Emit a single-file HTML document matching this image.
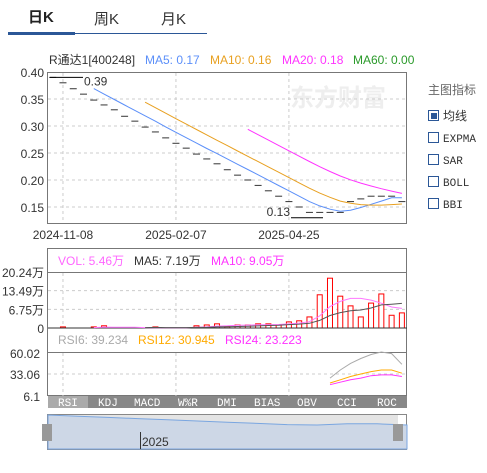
<!DOCTYPE html>
<html><head><meta charset="utf-8"><style>
body{margin:0;width:487px;height:468px;background:#fff;overflow:hidden;font-family:"Liberation Sans","Noto Sans CJK SC",sans-serif;}
svg text{font-family:"Liberation Sans","Noto Sans CJK SC",sans-serif;}
svg .mono text,svg text.mono{font-family:"Liberation Mono",monospace;}
</style></head><body>
<svg id="c" width="487" height="468" xmlns="http://www.w3.org/2000/svg">
<g>
<text x="28" y="22" font-size="15" font-weight="bold" fill="#222">日K</text>
<text x="94" y="24" font-size="15" fill="#333">周K</text>
<text x="161" y="24" font-size="15" fill="#333">月K</text>
<line x1="8" y1="33.5" x2="207" y2="33.5" stroke="#2b5797" stroke-width="1"/>
<rect x="8" y="32" width="67" height="3" fill="#2b5797"/>
</g>
<g font-size="12">
<text x="49" y="64" fill="#333">R通达1[400248]</text>
<text x="145" y="64" fill="#5b8ff9">MA5: 0.17</text>
<text x="210" y="64" fill="#e8a020">MA10: 0.16</text>
<text x="282" y="64" fill="#ff33ff">MA20: 0.18</text>
<text x="353" y="64" fill="#2a9a2a">MA60: 0.00</text>
</g>
<text x="290" y="106" font-size="24" font-weight="bold" fill="#eee">东方财富</text>
<g id="main"></g>
<g id="vol"></g>
<g id="rsi"></g>
<g class="mono" font-size="11" fill="#fff">
<rect x="48" y="396" width="359" height="12" fill="#888"/>
<rect x="48" y="396" width="40" height="12" fill="#aaa"/>
<text x="58" y="406" fill="#fff">RSI</text>
<text x="98" y="406" fill="#fff">KDJ</text>
<text x="134" y="406" fill="#fff">MACD</text>
<text x="178" y="406" fill="#fff">W%R</text>
<text x="217" y="406" fill="#fff">DMI</text>
<text x="254" y="406" fill="#fff">BIAS</text>
<text x="297" y="406" fill="#fff">OBV</text>
<text x="337" y="406" fill="#fff">CCI</text>
<text x="377" y="406" fill="#fff">ROC</text>
</g>
<g>
<rect x="47.5" y="414.5" width="359" height="35" fill="#fff" stroke="#888"/>
<rect x="48" y="415" width="350" height="34" fill="#e4e4e4"/>
<path id="navp" fill="#cdd7e6" stroke="#7aa6e0" stroke-width="1"/>
<line x1="140.5" y1="432" x2="140.5" y2="449" stroke="#333"/>
<text x="142" y="446" font-size="12" fill="#333">2025</text>
<rect x="42" y="424" width="10" height="17" fill="#999"/>
<rect x="393" y="424" width="10" height="17" fill="#999"/>
</g>
<g font-size="11">
<text x="428" y="94" fill="#666" font-size="12">主图指标</text>
<g><rect x="428.5" y="110.5" width="10" height="10" fill="#fff" stroke="#2b5797"/><rect x="431" y="113" width="6" height="6" fill="#2b5797"/><text x="443" y="120" fill="#333" font-size="12">均线</text></g>
<g class="mono"><rect x="428.5" y="132.5" width="10" height="10" fill="#fff" stroke="#2b5797"/><text x="443" y="142" fill="#333">EXPMA</text></g>
<g class="mono"><rect x="428.5" y="154.5" width="10" height="10" fill="#fff" stroke="#2b5797"/><text x="443" y="164" fill="#333">SAR</text></g>
<g class="mono"><rect x="428.5" y="176.5" width="10" height="10" fill="#fff" stroke="#2b5797"/><text x="443" y="186" fill="#333">BOLL</text></g>
<g class="mono"><rect x="428.5" y="198.5" width="10" height="10" fill="#fff" stroke="#2b5797"/><text x="443" y="208" fill="#333">BBI</text></g>
</g>
</svg>
<script>
const closes=[0.39,0.38,0.369,0.359,0.348,0.339,0.33,0.318,0.309,0.298,0.289,0.278,0.268,0.259,0.248,0.239,0.23,0.219,0.209,0.2,0.19,0.18,0.17,0.16,0.15,0.14,0.14,0.14,0.14,0.16,0.165,0.17,0.17,0.17,0.16];
const volumes=[0,0.4,0,0,0.4,0.8,0,0,0,0,0.4,0,0,0,0.8,1.1,1.5,0.5,1.1,1.1,1.5,1.5,1.1,2.2,2.6,4.0,12.0,18.0,11.5,8.0,4.0,9.0,12.3,4.6,5.46];
const rsi6=[null,null,null,null,null,null,null,null,null,null,null,null,null,null,null,null,null,null,null,null,null,null,null,null,null,null,null,28,38,46,52,57,60,58,45];
const rsi12=[null,null,null,null,null,null,null,null,null,null,null,null,null,null,null,null,null,null,null,null,null,null,null,null,null,null,null,22,26,30,33,36,38,38,34];
const rsi24=[null,null,null,null,null,null,null,null,null,null,null,null,null,null,null,null,null,null,null,null,null,null,null,null,null,null,null,20,23,26,28,31,32,32,30];
const priceTicks=[0.40,0.35,0.30,0.25,0.20,0.15];
const volTicks=[0,6.75,13.49,20.24];
const volTickLabels=["0","6.75万","13.49万","20.24万"];
const rsiTicks=[6.1,33.06,60.02];
const dateLabels=["2024-11-08","2025-02-07","2025-04-25"];
const dateIdx=[1,12,23];
const navValues=[0.39,0.36,0.33,0.3,0.27,0.24,0.21,0.18,0.15,0.14,0.17,0.17,0.14];

const NS="http://www.w3.org/2000/svg";
function mk(p,t,a,txt){const e=document.createElementNS(NS,t);for(const k in a)e.setAttribute(k,a[k]);if(txt!=null)e.textContent=txt;p.appendChild(e);return e;}
const X0=48,X1=407,N=closes.length;
const xi=i=>52.7+i*10.27;
const py=v=>72+(0.40-v)*540;
const vy=v=>328-v*2.767;
const ry=v=>396-(v-6.1)*(44/53.92);
function ma(arr,n){return arr.map((v,i)=>{if(i<n-1)return null;let s=0;for(let j=i-n+1;j<=i;j++)s+=arr[j];return s/n;});}
function line(g,arr,yf,color,name,w){let d="";arr.forEach((v,i)=>{if(v==null)return;d+=(d?"L":"M")+xi(i).toFixed(1)+","+yf(v).toFixed(1);});const p=mk(g,"path",{d:d,fill:"none",stroke:color,"stroke-width":w||1});}
function vgrid(g,y0,y1){dateIdx.forEach(i=>{mk(g,"line",{x1:xi(i),x2:xi(i),y1:y0,y2:y1,stroke:"#ccc","stroke-dasharray":"3,3"});});}

const m=document.getElementById("main");
mk(m,"rect",{x:47.5,y:72.5,width:359,height:151,fill:"none",stroke:"#777"});
priceTicks.forEach(t=>{const y=py(t);if(t<0.4)mk(m,"line",{x1:X0,x2:X1,y1:y,y2:y,stroke:"#ccc","stroke-dasharray":"3,3"});const tx=mk(m,"text",{x:44,y:y+5,"text-anchor":"end","font-size":12,fill:"#333"},t.toFixed(2));});
vgrid(m,73,223);
dateLabels.forEach((l,k)=>{const tx=mk(m,"text",{x:xi(dateIdx[k]),y:239,"text-anchor":"middle","font-size":12,fill:"#333"},l);});
closes.forEach((c,i)=>{const d=mk(m,"line",{x1:xi(i)-3.5,x2:xi(i)+3.5,y1:py(c),y2:py(c),stroke:"#333","stroke-width":1});});
const hi=Math.max(...closes),lo=Math.min(...closes)-0.01;
mk(m,"line",{x1:50,x2:83,y1:py(hi),y2:py(hi),stroke:"#000"});
mk(m,"text",{x:84,y:py(hi)+8,"font-size":12,fill:"#333"},hi.toFixed(2));
mk(m,"line",{x1:291,x2:323,y1:py(lo),y2:py(lo),stroke:"#000"});
mk(m,"text",{x:290,y:py(lo)-2,"text-anchor":"end","font-size":12,fill:"#333"},lo.toFixed(2));
line(m,ma(closes,5),py,"#5b8ff9","ma5-line");
line(m,ma(closes,10),py,"#e8a020","ma10-line");
line(m,ma(closes,20),py,"#ff33ff","ma20-line");

const v=document.getElementById("vol");
mk(v,"rect",{x:47.5,y:248.5,width:359,height:147,fill:"none",stroke:"#777"});
mk(v,"line",{x1:X0,x2:X1,y1:272.5,y2:272.5,stroke:"#777"});
mk(v,"text",{x:58,y:265,"font-size":12,fill:"#ff66ff"},"VOL: 5.46万");
mk(v,"text",{x:134,y:265,"font-size":12,fill:"#333"},"MA5: 7.19万");
mk(v,"text",{x:211,y:265,"font-size":12,fill:"#ff33ff"},"MA10: 9.05万");
volTicks.forEach((t,k)=>{const y=vy(t);if(t>0&&t<20)mk(v,"line",{x1:X0,x2:X1,y1:y,y2:y,stroke:"#ccc","stroke-dasharray":"3,3"});const tx=mk(v,"text",{x:44,y:y+5,"text-anchor":"end","font-size":12,fill:"#333"},volTickLabels[k]);});
vgrid(v,273,328);
volumes.forEach((val,i)=>{if(!val)return;const h=Math.max(1,val*2.767);const r=mk(v,"rect",{x:xi(i)-2.5,y:328-h,width:5,height:h,fill:"#fff",stroke:"#f00","stroke-width":1});});
mk(v,"line",{x1:X0,x2:X1,y1:328,y2:328,stroke:"#333"});
line(v,ma(volumes,5),vy,"#ff77ff","vol-ma5-line");
line(v,ma(volumes,10),vy,"#555","vol-ma10-line");

const r=document.getElementById("rsi");
mk(r,"line",{x1:X0,x2:X1,y1:352.5,y2:352.5,stroke:"#777"});
mk(r,"text",{x:58,y:344,"font-size":12,fill:"#aaa"},"RSI6: 39.234");
mk(r,"text",{x:138,y:344,"font-size":12,fill:"#ffaa00"},"RSI12: 30.945");
mk(r,"text",{x:225,y:344,"font-size":12,fill:"#ff33ff"},"RSI24: 23.223");
rsiTicks.forEach(t=>{const y=ry(t);if(t>10&&t<60)mk(r,"line",{x1:X0,x2:X1,y1:y,y2:y,stroke:"#ccc","stroke-dasharray":"3,3"});const tx=mk(r,"text",{x:40,y:t>60?y+6:y+5,"text-anchor":"end","font-size":12,fill:"#333"},String(t));});
vgrid(r,353,396);
line(r,rsi6,ry,"#aaa","rsi6-line");
line(r,rsi12,ry,"#ffaa00","rsi12-line");
line(r,rsi24,ry,"#ff33ff","rsi24-line");

const nx=i=>48+i*(359/(navValues.length-1));
const ny=val=>415+(0.39-val)*40;
let d="M48,449";navValues.forEach((val,i)=>{d+="L"+nx(i).toFixed(1)+","+ny(val).toFixed(1);});d+="L407,449Z";
document.getElementById("navp").setAttribute("d",d);
</script>
</body></html>
